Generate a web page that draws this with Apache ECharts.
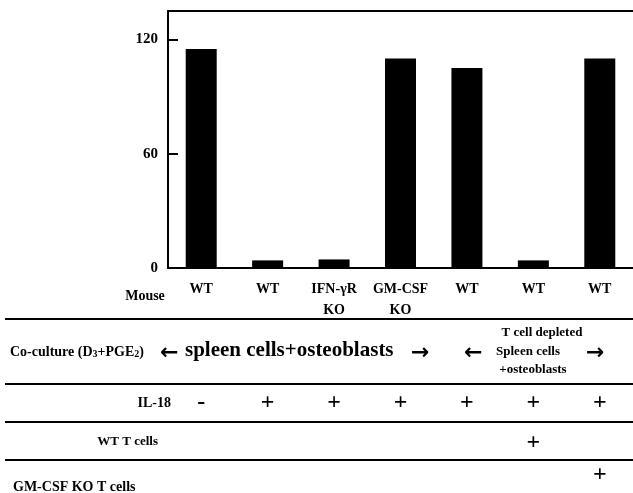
<!DOCTYPE html>
<html>
<head>
<meta charset="utf-8">
<script src="https://cdn.jsdelivr.net/npm/echarts@6/dist/echarts.min.js"></script>
<style>html,body{margin:0;padding:0;background:#fff}#c{width:633px;height:493px}</style>
</head>
<body>
<div id="c"></div>
<script>
var mouse = ['WT', 'WT', 'IFN-\u03b3R\nKO', 'GM-CSF\nKO', 'WT', 'WT', 'WT'];
var values = [115, 4, 4.5, 110, 105, 4, 110];
var yTicks = [0, 60, 120];
var il18 = ['-', '+', '+', '+', '+', '+', '+'];
var wtTcells = ['', '', '', '', '', '+', ''];
var gmTcells = ['', '', '', '', '', '', '+'];

var serif = 'Liberation Serif';
var chart = echarts.init(document.getElementById('c'));

function rowAxis(data, offset, size) {
  return {
    type: 'category', data: data, position: 'bottom', offset: offset,
    axisLine: {show: false}, axisTick: {show: false}, splitLine: {show: false},
    axisLabel: {interval: 0, margin: 0, verticalAlign: 'middle', fontFamily: serif,
      fontWeight: 'bold', fontSize: size, color: '#000'}
  };
}
function txt(text, x, y, size, align, extra) {
  var s = {text: text, fontFamily: serif, fontWeight: 'bold', fontSize: size,
    fill: '#000', align: align || 'left', verticalAlign: 'middle'};
  if (extra) for (var k in extra) s[k] = extra[k];
  return {type: 'text', x: x, y: y, style: s, z: 10};
}
function hline(y) {
  return {type: 'line', shape: {x1: 5, y1: y, x2: 633, y2: y},
    style: {stroke: '#000', lineWidth: 2}, z: 10};
}

chart.setOption({
  animation: false,
  backgroundColor: '#fff',
  grid: {left: 168, right: 0, top: 11, bottom: 225},
  xAxis: [
    {
      type: 'category', data: mouse, position: 'bottom',
      axisLine: {show: true, lineStyle: {color: '#000', width: 2}},
      axisTick: {show: false},
      axisLabel: {interval: 0, margin: 11, fontFamily: serif, fontWeight: 'bold',
        fontSize: 14, color: '#000', lineHeight: 21}
    },
    {
      type: 'category', data: mouse, position: 'top',
      axisLine: {show: true, lineStyle: {color: '#000', width: 2}},
      axisTick: {show: false}, axisLabel: {show: false}
    },
    rowAxis(il18, 135, 24),
    rowAxis(wtTcells, 175, 24),
    rowAxis(gmTcells, 207, 24)
  ],
  yAxis: {
    type: 'value', min: 0, max: 135, interval: 60,
    axisLine: {show: true, lineStyle: {color: '#000', width: 2}},
    axisTick: {show: true, inside: true, length: 10, customValues: yTicks,
      lineStyle: {color: '#000', width: 2}},
    splitLine: {show: false},
    axisLabel: {customValues: yTicks, margin: 10, fontFamily: serif, fontWeight: 'bold',
      fontSize: 15, color: '#000'}
  },
  series: [{
    type: 'bar', data: values, barWidth: 31, xAxisIndex: 0,
    itemStyle: {color: '#000'}
  }],
  graphic: [
    txt('Mouse', 145, 296, 14, 'center'),
    hline(319),
    {type: 'text', x: 10, y: 352, z: 10, style: {
      text: 'Co-culture (D{s|3}+PGE{s|2})', fontFamily: serif, fontWeight: 'bold',
      fontSize: 14, fill: '#000', align: 'left', verticalAlign: 'middle',
      rich: {s: {fontFamily: serif, fontWeight: 'bold', fontSize: 10, fill: '#000', padding: [5, 0, 0, 0]}}
    }},
    txt('\u2190', 160, 353, 22, 'left', {fontFamily: 'DejaVu Sans'}),
    txt('spleen cells+osteoblasts', 185, 351, 21, 'left'),
    txt('\u2192', 411, 353, 22, 'left', {fontFamily: 'DejaVu Sans'}),
    txt('\u2190', 464, 353, 22, 'left', {fontFamily: 'DejaVu Sans'}),
    txt('T cell depleted', 542, 333, 13, 'center'),
    txt('Spleen cells', 528, 352, 13, 'center'),
    txt('+osteoblasts', 533, 370, 13, 'center'),
    txt('\u2192', 586, 353, 22, 'left', {fontFamily: 'DejaVu Sans'}),
    hline(384),
    txt('IL-18', 171, 403, 14, 'right'),
    hline(422),
    txt('WT T cells', 158, 442, 13, 'right'),
    hline(460),
    txt('GM-CSF KO T cells', 13, 487, 14, 'left')
  ]
});
</script>
</body>
</html>
